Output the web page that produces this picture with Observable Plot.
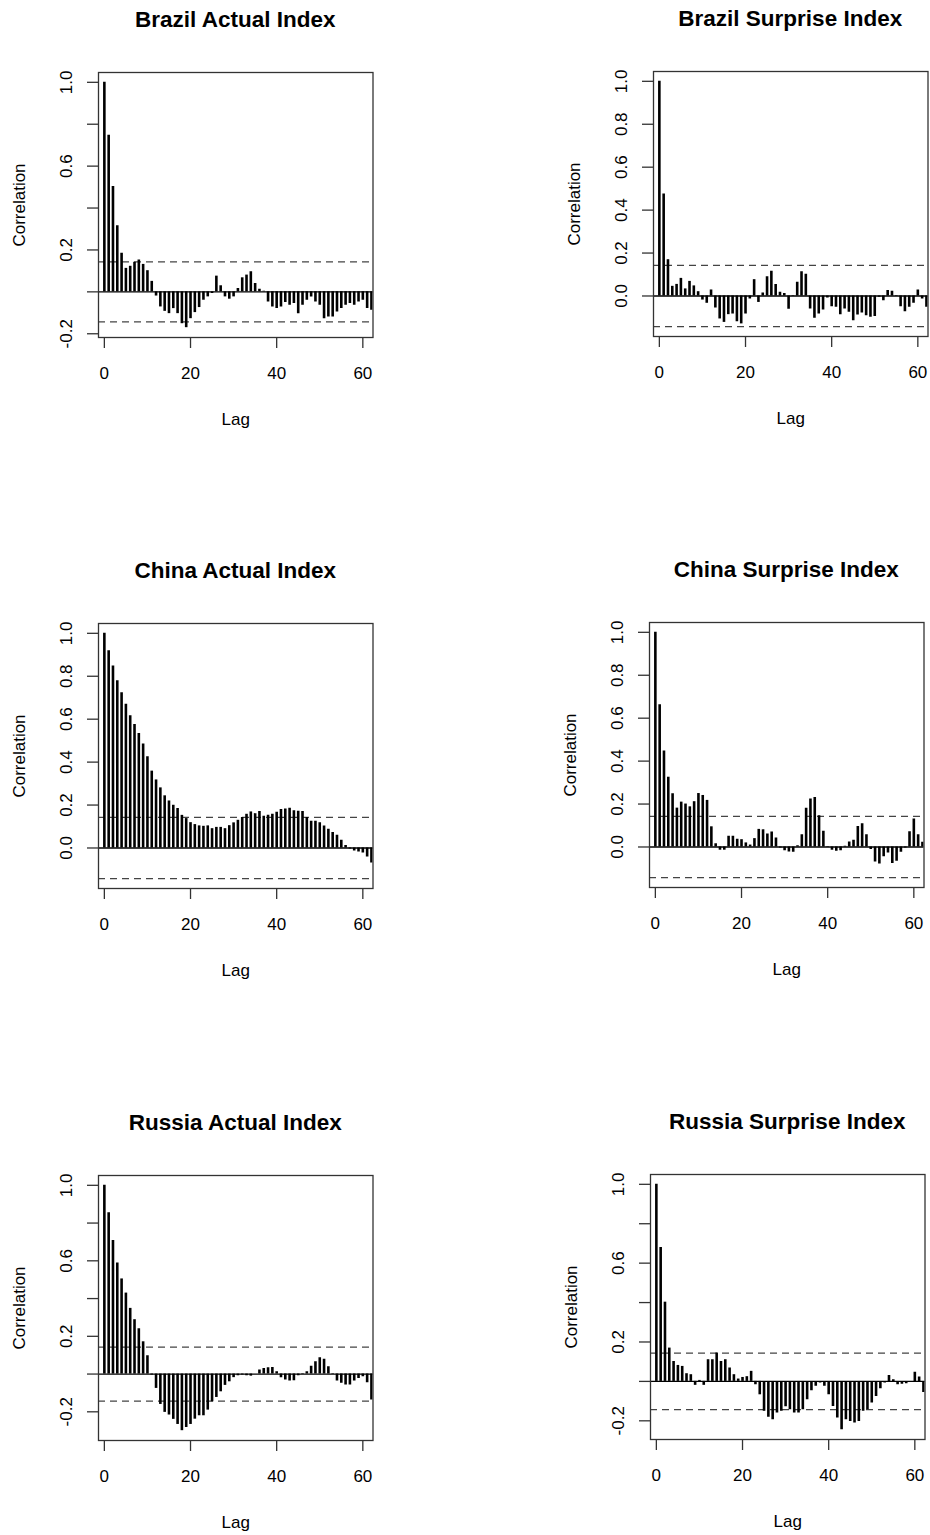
<!DOCTYPE html>
<html><head><meta charset="utf-8">
<script src="https://cdn.jsdelivr.net/npm/d3@7"></script>
<script src="https://cdn.jsdelivr.net/npm/@observablehq/plot@0.6"></script>
<style>
body{margin:0;background:#fff;}
#root{position:relative;width:930px;height:1535px;overflow:hidden;font-family:"Liberation Sans",Arial,Helvetica,sans-serif;}
.title{position:absolute;font-weight:bold;font-size:22.5px;line-height:1;text-align:center;transform:translate(-50%,-50%);white-space:nowrap;color:#000;}
</style></head><body><div id="root"></div>
<script>
// ---- data ----
const lags = d3.range(63);
const titles = ["Brazil Actual Index", "Brazil Surprise Index", "China Actual Index", "China Surprise Index", "Russia Actual Index", "Russia Surprise Index"];
const ciLevel = 0.143;
const xlim = [1, 60];
const xTicks = [0, 20, 40, 60];
const yTicksWithNeg = [-0.2, 0, 0.2, 0.4, 0.6, 0.8, 1.0];
const yTicksPos = [0, 0.2, 0.4, 0.6, 0.8, 1.0];
const yLabelsSparse = [-0.2, 0.2, 0.6, 1.0];
const yLabelsAll = [0, 0.2, 0.4, 0.6, 0.8, 1.0];

const brazilActual = [1.000, 0.747, 0.503, 0.316, 0.184, 0.112, 0.122, 0.141, 0.152, 0.131, 0.101, 0.050, -0.020, -0.072, -0.093, -0.104, -0.080, -0.104, -0.152, -0.171, -0.128, -0.099, -0.075, -0.040, -0.024, -0.008, 0.075, 0.029, -0.024, -0.035, -0.024, 0.016, 0.067, 0.080, 0.096, 0.040, 0.013, 0.003, -0.048, -0.072, -0.080, -0.072, -0.051, -0.064, -0.056, -0.104, -0.064, -0.040, -0.024, -0.048, -0.064, -0.128, -0.120, -0.120, -0.096, -0.080, -0.064, -0.056, -0.064, -0.048, -0.040, -0.080, -0.088];
const brazilSurprise = [1.000, 0.475, 0.169, 0.045, 0.054, 0.082, 0.033, 0.068, 0.047, 0.020, -0.019, -0.034, 0.028, -0.056, -0.107, -0.123, -0.087, -0.084, -0.120, -0.130, -0.084, -0.014, 0.076, -0.030, 0.014, 0.090, 0.115, 0.053, 0.017, 0.012, -0.062, 0.002, 0.064, 0.113, 0.101, -0.061, -0.104, -0.084, -0.065, -0.009, -0.050, -0.053, -0.087, -0.061, -0.076, -0.115, -0.089, -0.079, -0.092, -0.099, -0.096, -0.006, -0.022, 0.025, 0.022, 0.002, -0.050, -0.073, -0.053, -0.034, 0.028, -0.014, -0.053];
const chinaActual = [1.000, 0.919, 0.848, 0.779, 0.723, 0.670, 0.616, 0.575, 0.533, 0.484, 0.425, 0.358, 0.317, 0.280, 0.243, 0.219, 0.199, 0.184, 0.152, 0.137, 0.118, 0.109, 0.103, 0.101, 0.103, 0.090, 0.096, 0.096, 0.090, 0.104, 0.117, 0.129, 0.142, 0.157, 0.168, 0.160, 0.170, 0.148, 0.152, 0.157, 0.166, 0.179, 0.182, 0.185, 0.173, 0.171, 0.170, 0.142, 0.124, 0.124, 0.118, 0.103, 0.087, 0.072, 0.059, 0.036, 0.012, -0.005, -0.014, -0.019, -0.023, -0.042, -0.070];
const chinaSurprise = [1.000, 0.663, 0.447, 0.325, 0.248, 0.181, 0.209, 0.200, 0.187, 0.211, 0.249, 0.240, 0.217, 0.094, 0.015, -0.015, -0.015, 0.050, 0.050, 0.036, 0.034, 0.019, 0.009, 0.039, 0.082, 0.080, 0.060, 0.070, 0.042, -0.005, -0.018, -0.023, -0.025, 0.006, 0.057, 0.181, 0.223, 0.231, 0.146, 0.073, -0.002, -0.015, -0.020, -0.017, 0.003, 0.023, 0.031, 0.096, 0.108, 0.057, -0.012, -0.070, -0.079, -0.046, -0.028, -0.077, -0.067, -0.025, -0.005, 0.071, 0.130, 0.057, 0.022];
const russiaActual = [1.000, 0.855, 0.708, 0.588, 0.504, 0.429, 0.348, 0.288, 0.240, 0.171, 0.097, -0.005, -0.076, -0.161, -0.203, -0.217, -0.240, -0.267, -0.300, -0.283, -0.267, -0.239, -0.221, -0.221, -0.191, -0.147, -0.124, -0.094, -0.060, -0.041, -0.019, -0.009, -0.005, -0.009, -0.011, 0.000, 0.021, 0.030, 0.034, 0.035, 0.012, -0.019, -0.032, -0.037, -0.035, -0.009, 0.003, 0.012, 0.042, 0.065, 0.087, 0.078, 0.039, -0.002, -0.037, -0.049, -0.058, -0.058, -0.037, -0.023, -0.014, -0.046, -0.138];
const russiaSurprise = [1.000, 0.680, 0.402, 0.169, 0.101, 0.081, 0.076, 0.039, 0.034, -0.020, 0.005, -0.020, 0.110, 0.110, 0.144, 0.101, 0.110, 0.068, 0.034, 0.012, 0.020, 0.024, 0.051, -0.017, -0.068, -0.152, -0.182, -0.194, -0.160, -0.152, -0.128, -0.144, -0.160, -0.160, -0.144, -0.093, -0.047, -0.025, -0.008, -0.025, -0.068, -0.127, -0.186, -0.245, -0.194, -0.203, -0.211, -0.203, -0.152, -0.144, -0.110, -0.076, -0.037, -0.008, 0.030, 0.008, -0.017, -0.014, -0.012, -0.005, 0.047, 0.022, -0.056];

// ---- layout ----
const FONT = '"Liberation Sans", Arial, Helvetica, sans-serif';
const FW = 274.5, FH = 265, MT = 10, MB = 100, COLW = 465;
const panels = [
  {title: titles[0], values: brazilActual, yTicks: yTicksWithNeg, yLabels: yLabelsSparse, col: 0, fl: 98, ft: 72},
  {title: titles[1], values: brazilSurprise, yTicks: yTicksPos, yLabels: yLabelsAll, col: 1, fl: 653, ft: 71},
  {title: titles[2], values: chinaActual, yTicks: yTicksPos, yLabels: yLabelsAll, col: 0, fl: 98, ft: 623},
  {title: titles[3], values: chinaSurprise, yTicks: yTicksPos, yLabels: yLabelsAll, col: 1, fl: 649, ft: 622},
  {title: titles[4], values: russiaActual, yTicks: yTicksWithNeg, yLabels: yLabelsSparse, col: 0, fl: 98, ft: 1175},
  {title: titles[5], values: russiaSurprise, yTicks: yTicksWithNeg, yLabels: yLabelsSparse, col: 1, fl: 650, ft: 1174}
];

const root = document.getElementById("root");
for (const p of panels) {
  const colLeft = p.col * COLW;
  const ml = p.fl - colLeft;
  const mr = COLW - ml - FW;
  const data = p.values.map((v, i) => ({lag: lags[i], acf: v}));
  const lo = Math.min(d3.min(p.values), -ciLevel), hi = Math.max(d3.max(p.values), ciLevel);
  const pad = 0.04 * (hi - lo);
  const xpad = 0.04 * (xlim[1] - xlim[0]);
  const chart = Plot.plot({
    width: COLW, height: MT + FH + MB,
    marginLeft: ml, marginRight: mr, marginTop: MT, marginBottom: MB,
    style: {fontFamily: FONT, fontSize: "17px", color: "#000", background: "transparent", overflow: "visible"},
    x: {domain: [xlim[0] - xpad, xlim[1] + xpad]},
    y: {domain: [lo - pad, hi + pad]},
    marks: [
      Plot.ruleY([ciLevel, -ciLevel], {stroke: "#444", strokeWidth: 1.3, strokeDasharray: "7,5"}),
      Plot.ruleX(data, {x: "lag", y1: 0, y2: "acf", stroke: "#000", strokeWidth: 2.6, clip: true}),
      Plot.ruleY([0], {stroke: "#000", strokeWidth: 1.3}),
      Plot.frame({stroke: "#333", strokeWidth: 1.3}),
      Plot.axisX({ticks: xTicks, tickSize: 11, tickPadding: 18, tickFormat: d => String(d), stroke: "#333", strokeWidth: 1.3,
        fontSize: 17, label: "Lag", labelAnchor: "center", labelOffset: 87, labelArrow: "none"}),
      Plot.axisY({ticks: p.yTicks, tickSize: 11, tickPadding: 16, tickRotate: -90, stroke: "#333", strokeWidth: 1.3,
        fontSize: 17, tickFormat: d => p.yLabels.includes(d) ? d.toFixed(1) : "",
        label: "Correlation", labelAnchor: "center", labelOffset: 85.5, labelArrow: "none"})
    ]
  });
  chart.style.position = "absolute";
  chart.style.left = colLeft + "px";
  chart.style.top = (p.ft - MT) + "px";
  root.appendChild(chart);
  const t = document.createElement("div");
  t.className = "title";
  t.textContent = p.title;
  t.style.left = (p.fl + FW / 2) + "px";
  t.style.top = (p.ft - 52) + "px";
  root.appendChild(t);
}
</script></body></html>
